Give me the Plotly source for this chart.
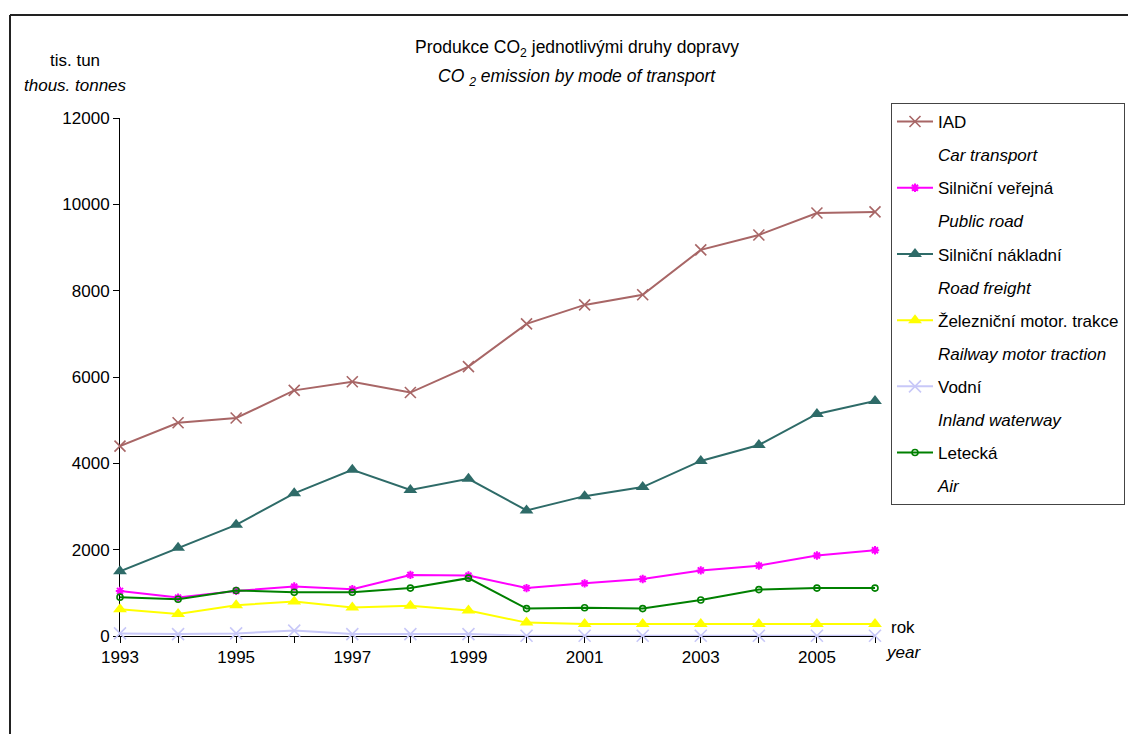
import plotly.graph_objects as go

# Years on the category axis
years = list(range(1993, 2007))
year_labels = [str(y) if y % 2 == 1 else "" for y in years]

# Value axis ticks
y_ticks = [0, 2000, 4000, 6000, 8000, 10000, 12000]
y_tick_labels = [str(v) for v in y_ticks]

# CO2 emissions, thousand tonnes
iad = [4400, 4940, 5050, 5690, 5890, 5640, 6240, 7230, 7670, 7905, 8945, 9290, 9800, 9825]
silnicni_verejna = [1045, 890, 1045, 1145, 1085, 1415, 1400, 1110, 1220, 1320, 1520, 1630, 1865, 1985]
silnicni_nakladni = [1500, 2045, 2575, 3305, 3850, 3385, 3640, 2910, 3240, 3450, 4055, 4425, 5145, 5445]
zeleznicni = [620, 510, 715, 800, 660, 700, 590, 310, 278, 278, 278, 278, 278, 278]
vodni = [60, 45, 60, 125, 45, 45, 45, 5, 5, 5, 5, 5, 5, 5]
letecka = [900, 850, 1055, 1015, 1015, 1110, 1340, 635, 655, 635, 835, 1075, 1110, 1110]

FONT = "Liberation Sans, Arial, sans-serif"
FS = 17

series = [
    ("IAD", "Car transport", iad, "#A86666",
     dict(symbol="x-thin-open", size=11, line=dict(width=1.6, color="#A86666"))),
    ("Silniční veřejná", "Public road", silnicni_verejna, "#FF00FF",
     dict(symbol="asterisk-open", size=7, line=dict(width=2, color="#FF00FF"))),
    ("Silniční nákladní", "Road freight", silnicni_nakladni, "#2E6B68",
     dict(symbol="triangle-up", size=12, color="#2E6B68", line=dict(width=0))),
    ("Železniční motor. trakce", "Railway motor traction", zeleznicni, "#FFFF00",
     dict(symbol="triangle-up", size=12, color="#FFFF00", line=dict(width=0))),
    ("Vodní", "Inland waterway", vodni, "#C8C8F8",
     dict(symbol="x-thin-open", size=12, line=dict(width=1.6, color="#C8C8F8"))),
    ("Letecká", "Air", letecka, "#008000",
     dict(symbol="circle-open", size=6, line=dict(width=1.6, color="#008000"))),
]

fig = go.Figure()
for i, (cz, en, vals, color, marker) in enumerate(series):
    fig.add_trace(go.Scatter(
        x=years, y=vals, name=cz, mode="lines+markers",
        line=dict(color=color, width=2), marker=marker,
        legendgroup=f"s{i}a", cliponaxis=False,
    ))
    # second legend row carrying the English name
    fig.add_trace(go.Scatter(
        x=[None], y=[None], name=f"<i>{en}</i>", mode="lines",
        line=dict(color="rgba(0,0,0,0)", width=0),
        legendgroup=f"s{i}b", hoverinfo="skip",
    ))

W, H = 1128, 734
L, R, T, B = 120, 253, 118, 98
PW, PH = W - L - R, H - T - B


def px(x):
    return (x - L) / PW


def py(y):
    return (H - B - y) / PH


annotations = [
    dict(text="Produkce CO<sub>2</sub> jednotlivými druhy dopravy", x=px(577), y=py(48)),
    dict(text="<i>CO <sub>2</sub> emission by mode of transport</i>", x=px(577), y=py(78)),
    dict(text="tis. tun", x=px(75), y=py(60)),
    dict(text="<i>thous. tonnes</i>", x=px(75), y=py(85)),
    dict(text="rok", x=px(903), y=py(627)),
    dict(text="<i>year</i>", x=px(903), y=py(652)),
]
for a in annotations:
    a.update(xref="paper", yref="paper", showarrow=False, xanchor="center",
             yanchor="middle", font=dict(family=FONT, size=FS, color="black"))
annotations[0]["font"] = dict(family=FONT, size=17.5, color="black")
annotations[1]["font"] = dict(family=FONT, size=17.5, color="black")

shapes = [
    dict(type="line", xref="paper", yref="paper", x0=px(10), x1=px(10),
         y0=py(15), y1=py(H + 10), line=dict(color="#222", width=2)),
    dict(type="line", xref="paper", yref="paper", x0=px(10), x1=px(W + 10),
         y0=py(15), y1=py(15), line=dict(color="#222", width=2)),
]

fig.update_layout(
    width=W, height=H,
    margin=dict(l=L, r=R, t=T, b=B),
    paper_bgcolor="white", plot_bgcolor="white",
    font=dict(family=FONT, size=FS, color="black"),
    showlegend=True,
    legend=dict(
        xref="container", yref="container",
        x=891 / W, y=1 - 103 / H, xanchor="left", yanchor="top",
        bgcolor="white", bordercolor="#444", borderwidth=1,
        font=dict(family=FONT, size=FS, color="black"),
        tracegroupgap=8, itemwidth=36, valign="middle",
        traceorder="grouped", maxheight=700,
    ),
    xaxis=dict(
        range=[1993, 2006], tickvals=years, ticktext=year_labels,
        ticks="outside", ticklen=6, tickcolor="black",
        showline=True, linecolor="black", linewidth=1,
        showgrid=False, zeroline=False, layer="below traces",
        tickfont=dict(family=FONT, size=FS, color="black"),
    ),
    yaxis=dict(
        range=[0, 12000], tickvals=y_ticks, ticktext=y_tick_labels,
        ticks="outside", ticklen=6, tickcolor="black",
        showline=True, linecolor="black", linewidth=1,
        showgrid=False, zeroline=False, layer="below traces",
        tickfont=dict(family=FONT, size=FS, color="black"),
    ),
    annotations=annotations,
    shapes=shapes,
)

fig.write_html("out.html")
